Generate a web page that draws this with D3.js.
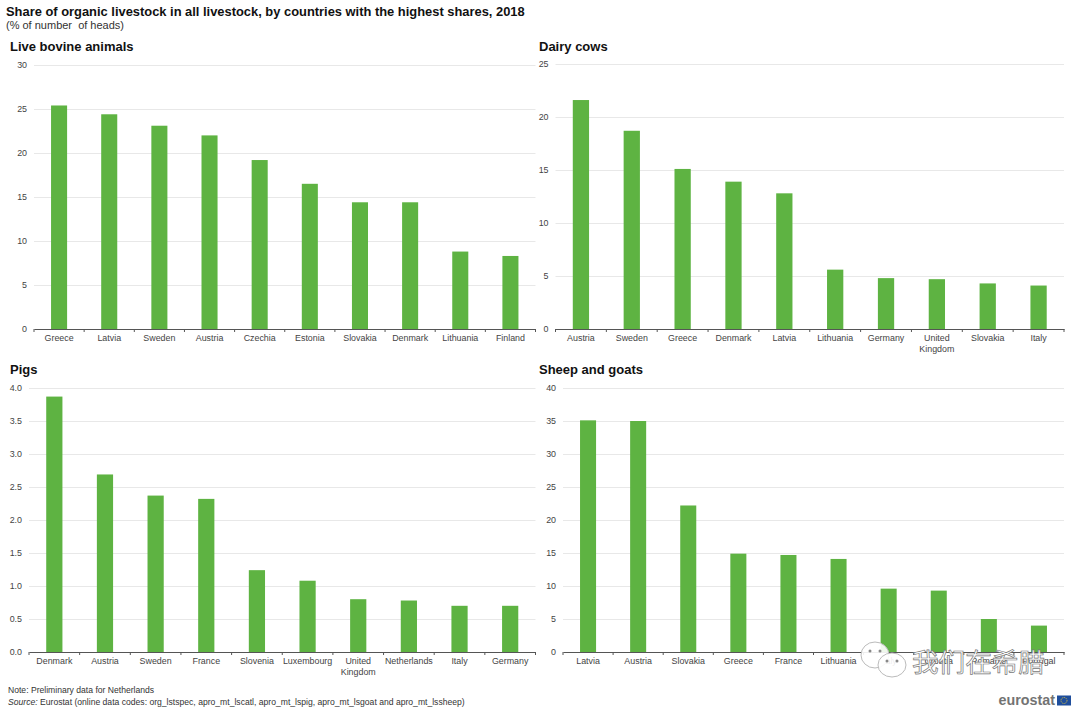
<!DOCTYPE html>
<meta charset="utf-8">
<head>
<style>
body { margin: 0; background: #fff; }
text { font-family: "Liberation Sans", Arial, sans-serif; white-space: pre; }
.tick text { fill: #444; font-size: 8.9px; }
.panelTitle { font-size: 13px; font-weight: bold; fill: #111; }
</style>
</head>
<script src="https://d3js.org/d3.v7.min.js"></script>
<div id="my_dataviz"></div>
<script>

// data
var bovineCountries = ["Greece","Latvia","Sweden","Austria","Czechia","Estonia","Slovakia","Denmark","Lithuania","Finland"];
var bovineValues = [25.4,24.4,23.1,22.0,19.2,16.5,14.4,14.4,8.8,8.3];
var bovineTicks = [0,5,10,15,20,25,30];

var dairyCountries = ["Austria","Sweden","Greece","Denmark","Latvia","Lithuania","Germany","United Kingdom","Slovakia","Italy"];
var dairyValues = [21.6,18.7,15.1,13.9,12.8,5.6,4.8,4.7,4.3,4.1];
var dairyTicks = [0,5,10,15,20,25];

var pigCountries = ["Denmark","Austria","Sweden","France","Slovenia","Luxembourg","United Kingdom","Netherlands","Italy","Germany"];
var pigValues = [3.87,2.69,2.37,2.32,1.24,1.08,0.80,0.78,0.70,0.70];
var pigTicks = [0,0.5,1,1.5,2,2.5,3,3.5,4];

var sheepCountries = ["Latvia","Austria","Slovakia","Greece","France","Lithuania","Italy","Croatia","Romania","Portugal"];
var sheepValues = [35.1,35.0,22.2,14.9,14.7,14.1,9.6,9.3,5.0,4.0];
var sheepTicks = [0,5,10,15,20,25,30,35,40];

var svg = d3.select("#my_dataviz")
  .append("svg")
    .attr("width", 1080)
    .attr("height", 710)
    .style("display", "block");

svg.append("text").attr("x", 6).attr("y", 16)
  .attr("font-size", "12.9px").attr("font-weight", "bold").attr("fill", "#111")
  .text("Share of organic livestock in all livestock, by countries with the highest shares, 2018");
svg.append("text").attr("x", 6).attr("y", 29)
  .attr("font-size", "11px").attr("fill", "#333")
  .text("(% of number  of heads)");

// one panel: title, gridlines, bars, axes
function drawPanel(title, countries, values, ticks, fmt, box) {
  var x = d3.scaleBand().domain(countries).range([box.left, box.right])
    .paddingInner(0.68).paddingOuter(0.34);
  var y = d3.scaleLinear().domain([0, ticks[ticks.length - 1]]).range([box.bottom, box.top]);

  svg.append("text").attr("class", "panelTitle")
    .attr("x", box.titleX).attr("y", box.titleY).text(title);

  var yAxis = svg.append("g")
    .attr("transform", "translate(" + box.left + ",0)")
    .call(d3.axisLeft(y).tickValues(ticks).tickFormat(d3.format(fmt))
      .tickSize(-(box.right - box.left)).tickPadding(7));
  yAxis.select(".domain").remove();
  yAxis.selectAll(".tick line").attr("stroke", "#e2e2e2").attr("stroke-width", 0.8);

  svg.selectAll(null)
    .data(values)
    .enter()
    .append("rect")
      .attr("x", function(d, i) { return x(countries[i]); })
      .attr("y", function(d) { return y(d); })
      .attr("width", x.bandwidth())
      .attr("height", function(d) { return y(0) - y(d); })
      .attr("fill", "#5eb342");

  var xAxis = svg.append("g")
    .attr("transform", "translate(0," + box.bottom + ")")
    .call(d3.axisBottom(x).tickSize(0).tickPadding(6));
  xAxis.select(".domain").attr("stroke", "#555");

  // the split "United Kingdom" label goes on two lines
  xAxis.selectAll(".tick text").each(function(d) {
    if (d === "United Kingdom") {
      var t = d3.select(this).text("");
      t.append("tspan").attr("x", 0).attr("dy", "0.71em").text("United");
      t.append("tspan").attr("x", 0).attr("dy", "1.15em").text("Kingdom");
    }
  });

  // ticks sit between the categories
  var step = x.step();
  countries.concat([""]).forEach(function(c, i) {
    xAxis.append("line")
      .attr("x1", box.left + i * step).attr("x2", box.left + i * step)
      .attr("y1", 0).attr("y2", 3)
      .attr("stroke", "#555");
  });
}

drawPanel("Live bovine animals", bovineCountries, bovineValues, bovineTicks, "d",
  {left: 34, right: 535.5, top: 65, bottom: 329, titleX: 10, titleY: 51});
drawPanel("Dairy cows", dairyCountries, dairyValues, dairyTicks, "d",
  {left: 555.5, right: 1064, top: 64, bottom: 329, titleX: 539, titleY: 51});
drawPanel("Pigs", pigCountries, pigValues, pigTicks, ".1f",
  {left: 29, right: 535.5, top: 388, bottom: 652, titleX: 10, titleY: 374});
drawPanel("Sheep and goats", sheepCountries, sheepValues, sheepTicks, "d",
  {left: 563, right: 1064, top: 388, bottom: 652, titleX: 539, titleY: 374});

// footer
svg.append("text").attr("x", 8).attr("y", 693)
  .attr("font-size", "8.6px").attr("fill", "#333")
  .text("Note: Preliminary data for Netherlands");
var source = svg.append("text").attr("x", 8).attr("y", 705)
  .attr("font-size", "8.6px").attr("fill", "#333");
source.append("tspan").attr("font-style", "italic").text("Source:");
source.append("tspan").text(" Eurostat (online data codes: org_lstspec, apro_mt_lscatl, apro_mt_lspig, apro_mt_lsgoat and apro_mt_lssheep)");

// eurostat mark
svg.append("text").attr("x", 1055).attr("y", 705).attr("text-anchor", "end")
  .attr("font-size", "14.3px").attr("font-weight", "bold").attr("fill", "#737373")
  .text("eurostat");
svg.append("rect").attr("x", 1057).attr("y", 695.5).attr("width", 14).attr("height", 10).attr("fill", "#1f4e9c");
svg.append("circle").attr("cx", 1064).attr("cy", 700.5).attr("r", 3)
  .attr("fill", "none").attr("stroke", "#e8c93a").attr("stroke-width", 1).attr("stroke-dasharray", "1 1");

// overlay on the lower right of the picture: two speech bubbles and a caption
var bubbles = [[875, 655, 14, 13], [892, 665, 14, 12]];
bubbles.forEach(function(b) {
  svg.append("ellipse").attr("cx", b[0]).attr("cy", b[1]).attr("rx", b[2]).attr("ry", b[3])
    .attr("fill", "#fff").attr("fill-opacity", 0.9).attr("stroke", "#bbb").attr("stroke-width", 1);
  svg.append("circle").attr("cx", b[0] - 5).attr("cy", b[1] - 4).attr("r", 1.5).attr("fill", "#888");
  svg.append("circle").attr("cx", b[0] + 5).attr("cy", b[1] - 4).attr("r", 1.5).attr("fill", "#888");
});
svg.append("text").attr("x", 912).attr("y", 672)
  .style("font-family", "'Noto Sans CJK SC'").attr("font-size", "26.6px")
  .attr("fill", "#fff").attr("stroke", "#777").attr("stroke-width", 0.7)
  .text("我们在希腊");

</script>
